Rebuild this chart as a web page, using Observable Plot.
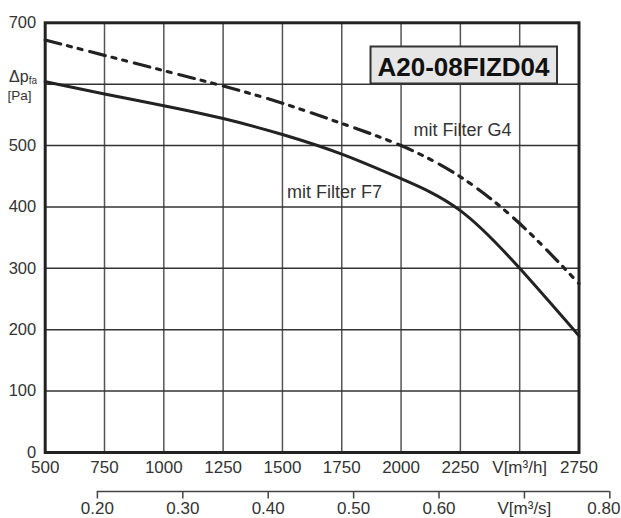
<!DOCTYPE html>
<html>
<head>
<meta charset="utf-8">
<script src="https://cdn.jsdelivr.net/npm/d3@7"></script>
<script src="https://cdn.jsdelivr.net/npm/@observablehq/plot@0.6"></script>
<style>
  html, body { margin: 0; padding: 0; background: #fff; }
  #chart svg { display: block; }
</style>
</head>
<body>
<div id="chart"></div>
<script>
// Data
const flow = [500, 750, 1000, 1250, 1500, 1750, 2000, 2250, 2500, 2750];      // V [m³/h]
const pF7  = [604, 584, 565, 544, 518, 486, 446, 394, 300, 190];             // mit Filter F7
const pG4  = [672, 647, 622, 597, 569, 536, 500, 449, 373, 275];             // mit Filter G4
const xTicks = [500, 750, 1000, 1250, 1500, 1750, 2000, 2250, 2500, 2750];
const xTickLabels = ["500", "750", "1000", "1250", "1500", "1750", "2000", "2250", "V[m³/h]", "2750"];
const yTicks = [0, 100, 200, 300, 400, 500, 700];
const gridX = [750, 1000, 1250, 1500, 1750, 2000, 2250, 2500];
const gridY = [100, 200, 300, 400, 500, 600];
const secTicks = [0.20, 0.30, 0.40, 0.50, 0.60, 0.70, 0.80];                 // V [m³/s]
const secLabels = ["0.20", "0.30", "0.40", "0.50", "0.60", "V[m³/s]", "0.80"];
const title = "A20-08FIZD04";

const F = "'Liberation Sans', Arial, Helvetica, sans-serif";
const ink = "#222";
const txt = "#333";

const f7 = flow.map((v, i) => ({v, p: pF7[i]}));
const g4 = flow.map((v, i) => ({v, p: pG4[i]}));
const xt = xTicks.map((v, i) => ({v, label: xTickLabels[i]}));
const st = secTicks.map((s, i) => ({v: s * 3600, label: secLabels[i]}));
const stMain = st.slice(0, -1);
const stLast = st.slice(-1);
const secRange = [secTicks[0] * 3600, secTicks[secTicks.length - 1] * 3600];

const chart = Plot.plot({
  width: 621,
  height: 518,
  marginLeft: 44.7,
  marginRight: 42.5,
  marginTop: 22.3,
  marginBottom: 66,
  style: {fontFamily: F, background: "#fff", overflow: "visible"},
  x: {domain: [500, 2750], axis: null},
  y: {domain: [0, 700], axis: null},
  marks: [
    Plot.ruleX(gridX, {stroke: "#555", strokeWidth: 1.5}),
    Plot.ruleY(gridY, {stroke: "#333", strokeWidth: 1.5}),
    Plot.line(g4, {x: "v", y: "p", stroke: ink, strokeWidth: 3.2, strokeDasharray: "16,7,4,7,4,8", curve: "natural"}),
    Plot.line(f7, {x: "v", y: "p", stroke: ink, strokeWidth: 3, curve: "natural"}),
    Plot.frame({stroke: ink, strokeWidth: 3}),
    // primary x tick labels
    Plot.text(xt, {x: "v", y: () => 0, text: "label", dy: 15, fontSize: 17, fill: txt, lineAnchor: "middle"}),
    // y tick labels
    Plot.text(yTicks, {x: () => 500, y: d => d, text: d => String(d), dx: -9, textAnchor: "end", fontSize: 16.5, fill: txt, lineAnchor: "middle"}),
    // y axis title Δp_fa [Pa]
    Plot.text(["Δp"], {x: () => 500, y: () => 600, dx: -16.5, dy: -2.5, textAnchor: "end", lineAnchor: "bottom", fontSize: 16, fill: txt}),
    Plot.text(["fa"], {x: () => 500, y: () => 600, dx: -16.5, dy: 0.3, textAnchor: "start", lineAnchor: "bottom", fontSize: 10, fill: txt}),
    Plot.text(["[Pa]"], {x: () => 500, y: () => 600, dx: -37.7, dy: 15.5, textAnchor: "start", lineAnchor: "bottom", fontSize: 13.5, fill: txt}),
    // secondary axis in m³/s
    Plot.ruleY([0], {x1: () => secRange[0], x2: () => secRange[1], dy: 39, stroke: "#444", strokeWidth: 1.5}),
    Plot.ruleX(st, {x: "v", y1: () => 0, y2: () => 0, dy: 39, insetBottom: -7.5, stroke: "#444", strokeWidth: 1.5}),
    Plot.text(stMain, {x: "v", y: () => 0, text: "label", dy: 56, fontSize: 17, fill: txt, lineAnchor: "middle"}),
    Plot.text(stLast, {x: "v", y: () => 0, text: "label", dy: 56, dx: 10.5, textAnchor: "end", fontSize: 17, fill: txt, lineAnchor: "middle"}),
    // curve labels
    Plot.text([g4[6]], {x: "v", y: "p", text: () => "mit Filter G4", dx: 12.5, dy: -10, textAnchor: "start", lineAnchor: "bottom", fontSize: 18, fill: txt}),
    Plot.text([f7[5]], {x: "v", y: "p", text: () => "mit Filter F7", dx: -54.7, dy: 43.5, textAnchor: "start", lineAnchor: "bottom", fontSize: 18, fill: txt}),
    // model title
    Plot.text([title], {frameAnchor: "top-right", text: d => d, dx: -115.5, dy: 52.7, textAnchor: "middle", lineAnchor: "bottom", fontSize: 26, fontWeight: "bold", fill: "#111"})
  ]
});
document.getElementById("chart").appendChild(chart);

// box behind the model title (same transform as the text node)
const tnode = Array.from(chart.querySelectorAll("text")).find(t => t.textContent === title);
if (tnode) {
  const bb = tnode.getBBox();
  const r = document.createElementNS("http://www.w3.org/2000/svg", "rect");
  r.setAttribute("x", bb.x - 7);
  r.setAttribute("y", bb.y - 5);
  r.setAttribute("width", bb.width + 14);
  r.setAttribute("height", bb.height + 7);
  r.setAttribute("fill", "#e6e6e6");
  r.setAttribute("stroke", "#333");
  r.setAttribute("stroke-width", 2);
  const tf = tnode.getAttribute("transform");
  if (tf) r.setAttribute("transform", tf);
  const gtf = tnode.parentNode.getAttribute("transform");
  const wrap = document.createElementNS("http://www.w3.org/2000/svg", "g");
  if (gtf) wrap.setAttribute("transform", gtf);
  wrap.appendChild(r);
  const g = tnode.parentNode;
  g.parentNode.insertBefore(wrap, g);
}
</script>
</body>
</html>
